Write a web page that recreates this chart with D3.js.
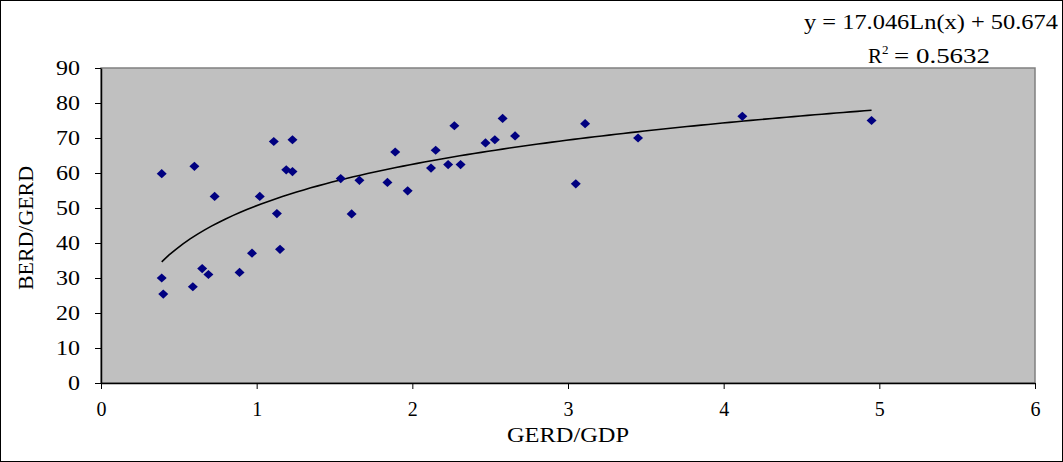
<!DOCTYPE html>
<html>
<head>
<meta charset="utf-8">
<script src="https://cdn.jsdelivr.net/npm/d3@7"></script>
<style>
  body { margin: 0; background: #fff; }
  text { font-family: "Liberation Serif", "Times New Roman", serif; }
</style>
</head>
<body>
<div id="chart"></div>
<script>
// GERD/GDP (x) and BERD/GERD (y)
var gerdGdp = [0.39, 0.60, 0.73, 1.02, 1.11, 1.23, 1.19, 1.23, 1.13, 1.15,
               0.97, 0.89, 0.65, 0.69, 0.39, 0.40, 0.59,
               1.54, 1.61, 1.66, 1.84, 1.89, 1.97, 2.12, 2.15, 2.23, 2.31,
               2.27, 2.47, 2.53, 2.58, 2.66, 3.05, 3.11, 3.45, 4.12, 4.95];
var berdGerd = [59.8, 61.9, 53.3, 53.3, 69.0, 69.5, 60.9, 60.4, 48.4, 38.2,
                37.1, 31.6, 32.7, 31.0, 30.0, 25.4, 27.5,
                58.4, 48.3, 57.9, 57.3, 66.0, 54.9, 61.4, 66.5, 62.4, 62.4,
                73.5, 68.6, 69.5, 75.6, 70.6, 56.9, 74.1, 70.0, 76.2, 75.0];
var xTicks = [0, 1, 2, 3, 4, 5, 6];
var yTicks = [0, 10, 20, 30, 40, 50, 60, 70, 80, 90];
// logarithmic trendline coefficients shown on the chart
var trendA = 17.046, trendB = 50.674;
var trendLabel = "y = 17.046Ln(x) + 50.674";
var r2Label = "0.5632";

var W = 1063, H = 462;
var plot = { left: 101, top: 68, right: 1035, bottom: 383 };

var svg = d3.select("#chart").append("svg")
    .attr("width", W)
    .attr("height", H);

// outer border
svg.append("rect")
    .attr("x", 0.5).attr("y", 0.5)
    .attr("width", W - 1).attr("height", H - 1)
    .attr("fill", "#fff")
    .attr("stroke", "#000");

var x = d3.scaleLinear().domain([0, 6]).range([plot.left, plot.right]);
var y = d3.scaleLinear().domain([0, 90]).range([plot.bottom, plot.top]);

// plot area
svg.append("rect")
    .attr("x", plot.left).attr("y", plot.top)
    .attr("width", plot.right - plot.left)
    .attr("height", plot.bottom - plot.top)
    .attr("fill", "#c0c0c0")
    .attr("stroke", "#808080")
    .attr("stroke-width", 1.5);

// axes
var xAxis = svg.append("g")
    .attr("transform", "translate(0," + plot.bottom + ")")
    .call(d3.axisBottom(x).tickValues(xTicks).tickFormat(d3.format("d"))
        .tickSize(6).tickPadding(13).tickSizeOuter(0));
var yAxis = svg.append("g")
    .attr("transform", "translate(" + plot.left + ",0)")
    .call(d3.axisLeft(y).tickValues(yTicks).tickFormat(d3.format("d"))
        .tickSize(6).tickPadding(15).tickSizeOuter(0));

[xAxis, yAxis].forEach(function (g) {
    g.select(".domain").attr("stroke", "#000").attr("stroke-width", 1.5);
    g.selectAll(".tick line").attr("stroke", "#000");
    g.selectAll(".tick text")
        .style("font-family", "'Liberation Serif', serif")
        .style("font-size", "20px")
        .attr("fill", "#000");
});
yAxis.selectAll(".tick text")
    .attr("textLength", function (d) { return String(d).length * 12; })
    .attr("lengthAdjust", "spacingAndGlyphs");

// trendline
var lo = d3.min(gerdGdp), hi = d3.max(gerdGdp);
var xs = d3.range(0, 101).map(function (i) { return lo + (hi - lo) * i / 100; });
svg.append("path")
    .datum(xs)
    .attr("fill", "none")
    .attr("stroke", "#000")
    .attr("stroke-width", 1.6)
    .attr("d", d3.line()
        .x(function (d) { return x(d); })
        .y(function (d) { return y(trendA * Math.log(d) + trendB); }));

// diamond markers
var diamond = {
    draw: function (ctx, size) {
        var w = 5, h = 4.6;
        ctx.moveTo(0, -h);
        ctx.lineTo(w, 0);
        ctx.lineTo(0, h);
        ctx.lineTo(-w, 0);
        ctx.closePath();
    }
};
svg.selectAll(".pt")
    .data(gerdGdp)
    .enter().append("path")
    .attr("class", "pt")
    .attr("transform", function (d, i) {
        return "translate(" + x(d) + "," + y(berdGerd[i]) + ")";
    })
    .attr("d", d3.symbol().type(diamond))
    .attr("fill", "#000080");

// axis titles
svg.append("text")
    .attr("x", 507)
    .attr("y", 442)
    .attr("textLength", 122)
    .attr("lengthAdjust", "spacingAndGlyphs")
    .style("font-size", "21px")
    .text("GERD/GDP");

svg.append("text")
    .attr("transform", "translate(33,290) rotate(-90)")
    .attr("textLength", 124)
    .attr("lengthAdjust", "spacingAndGlyphs")
    .style("font-size", "21px")
    .text("BERD/GERD");

// equation label
svg.append("text")
    .attr("x", 804)
    .attr("y", 29)
    .attr("textLength", 254)
    .attr("lengthAdjust", "spacingAndGlyphs")
    .style("font-size", "21px")
    .text(trendLabel);

svg.append("text")
    .attr("x", 868)
    .attr("y", 63)
    .style("font-size", "21px")
    .text("R");
svg.append("text")
    .attr("x", 882)
    .attr("y", 54)
    .style("font-size", "13px")
    .text("2");
svg.append("text")
    .attr("x", 894)
    .attr("y", 63)
    .attr("textLength", 96)
    .attr("lengthAdjust", "spacingAndGlyphs")
    .style("font-size", "21px")
    .text("= " + r2Label);
</script>
</body>
</html>
